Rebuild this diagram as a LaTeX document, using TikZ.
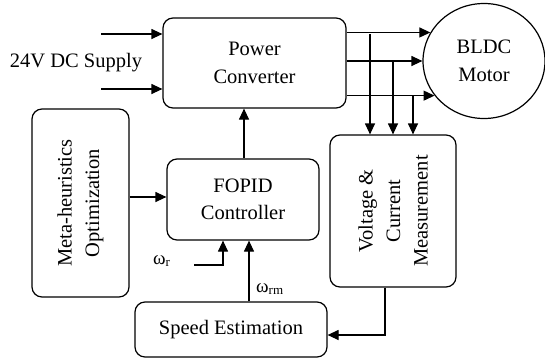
\documentclass[tikz,border=0pt]{standalone}
\usepackage{fontspec}
\setmainfont{Liberation Serif}
\usetikzlibrary{arrows.meta,shapes.geometric}
\begin{document}
\begin{tikzpicture}[x=1pt,y=-1pt,
  box/.style={draw, rounded corners=10pt, line width=1.2pt, align=center,
    font=\fontsize{20.5}{27.5}\selectfont, inner sep=0pt},
  txt/.style={align=center, font=\fontsize{20.5}{27.5}\selectfont, inner sep=0pt},
  arr/.style={line width=1.2pt, -{Triangle[length=11pt,width=10pt]}},
  lbl/.style={inner sep=0pt, anchor=base west, font=\fontsize{19}{19}\selectfont}]
\useasboundingbox (0,0) rectangle (545,359);
% nodes
\node[box, minimum width=183pt, minimum height=90pt] (pc) at (254.5,63) {Power\\Converter};
\node[draw, ellipse, line width=1.2pt, minimum width=122pt, minimum height=115pt, inner sep=0pt,
  align=center, font=\fontsize{20.5}{27.5}\selectfont] (motor) at (484,61) {BLDC\\Motor};
\node[txt] (supply) at (76,63) {24V DC Supply};
\node[box, minimum width=97pt, minimum height=188pt] (meta) at (80.5,203) {};
\node[txt, rotate=90] (metatext) at (meta.center) {Meta-heuristics\\Optimization};
\node[box, minimum width=152pt, minimum height=81pt] (fopid) at (243,199.5) {FOPID\\Controller};
\node[box, minimum width=126pt, minimum height=152pt] (meas) at (393,211) {};
\node[txt, rotate=90] (meastext) at (meas.center) {Voltage \&\\Current\\Measurement};
\node[box, minimum width=192pt, minimum height=55pt] (speed) at (231,329.5) {Speed Estimation};
\node[lbl] (wr) at (153,264) {ω\raisebox{-2.5pt}{\fontsize{13}{13}\selectfont r}};
\node[lbl] (wrm) at (256,292) {ω\raisebox{-2.5pt}{\fontsize{13}{13}\selectfont rm}};
% coordinates
\coordinate (in1) at (101,34);
\coordinate (in2) at (101,89);
\coordinate (wrs) at (194,265);
\coordinate (j1) at (370,34);
\coordinate (j2) at (393,61);
\coordinate (j3) at (413,96);
\coordinate (mc) at (385,335);
% connectors
\draw[arr] (in1) -- (in1 -| pc.west);
\draw[arr] (in2) -- (in2 -| pc.west);
\draw[arr] (motor.152 -| pc.east) -- (motor.152);
\draw[arr] (motor.west -| pc.east) -- (motor.west);
\draw[arr] (motor.215 -| pc.east) -- (motor.215);
\draw[arr] (j1) -- (j1 |- meas.north);
\draw[arr] (j2) -- (j2 |- meas.north);
\draw[arr] (j3) -- (j3 |- meas.north);
\draw[arr] (fopid.north -| 244,0) -- (pc.south -| 244,0);
\draw[arr] (meta.east |- 0,197) -- (fopid.west |- 0,197);
\draw[arr] (wrs) -- (223,265) -- (fopid.south -| 223,0);
\draw[arr] (speed.north -| 249,0) -- (fopid.south -| 249,0);
\draw[arr] (meas.south -| mc) -- (mc) -- (speed.east |- mc);
\end{tikzpicture}
\end{document}
